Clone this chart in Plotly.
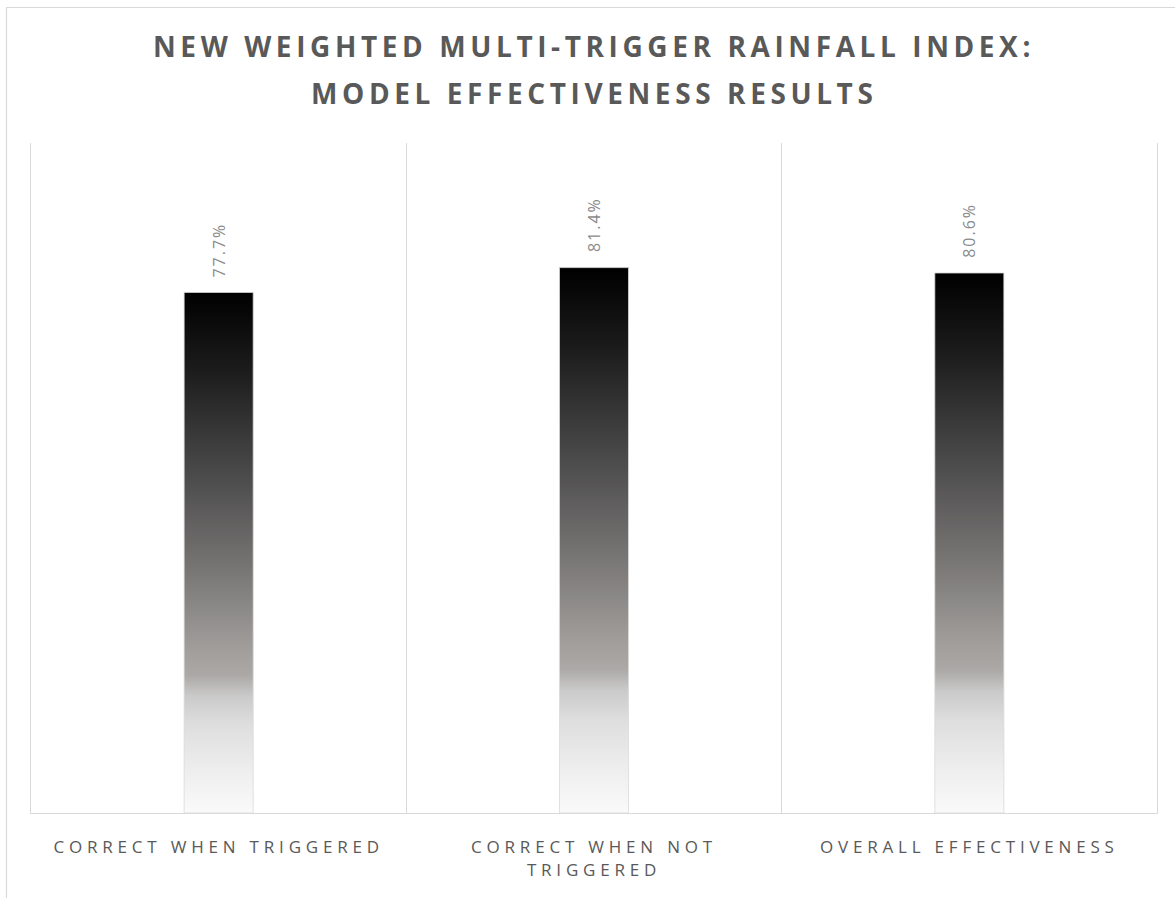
import plotly.graph_objects as go

# ---- data ----
categories = ["CORRECT WHEN TRIGGERED", "CORRECT WHEN NOT<br>TRIGGERED", "OVERALL EFFECTIVENESS"]
values = [77.7, 81.4, 80.6]
value_labels = ["77.7%", "81.4%", "80.6%"]
title_lines = ["NEW WEIGHTED MULTI-TRIGGER RAINFALL INDEX:", "MODEL EFFECTIVENESS RESULTS"]

W, H = 1175, 898
ML, MR, MT, MB = 31, 18, 143, 85
PW, PH = W - ML - MR, H - MT - MB

bar_w = 0.184
gradient = [
    [0.0, "#fafafa"], [0.08, "#eeeeee"], [0.17, "#dedede"], [0.225, "#cacaca"],
    [0.265, "#aba8a6"], [0.32, "#9f9c9a"], [0.46, "#7a7876"], [0.57, "#5f5d5d"],
    [0.67, "#464646"], [0.85, "#1c1c1c"], [1.0, "#000000"],
]

def spaced(t, sp):
    return f'<span style="letter-spacing:{sp}px">{t}</span>'

fig = go.Figure()
for i, v in enumerate(values):
    x0, x1 = i - bar_w / 2, i + bar_w / 2
    fig.add_trace(go.Scatter(
        x=[x0, x1, x1, x0, x0], y=[0, 0, v, v, 0],
        mode="lines", fill="toself",
        line=dict(color="#d9d9d9", width=0.8),
        fillgradient=dict(type="vertical", colorscale=gradient),
        hoverinfo="skip", showlegend=False,
    ))
    fig.add_annotation(
        x=i, y=v, xref="x", yref="y", text=spaced(value_labels[i], 2),
        showarrow=False, textangle=-90, yanchor="bottom", xanchor="center", yshift=13,
        font=dict(family="Open Sans", size=16, color="#8a8a8a"),
    )

# title lines
for k, (t, ypx) in enumerate(zip(title_lines, [46, 93])):
    fig.add_annotation(
        x=0.5, y=(H - MB - ypx) / PH, xref="paper", yref="paper",
        text="<b>" + spaced(t, 4.6) + "</b>", showarrow=False,
        xanchor="center", yanchor="middle",
        font=dict(family="Open Sans", size=28, color="#595959"),
    )

# outer frame
fig.add_shape(
    type="rect", xref="paper", yref="paper",
    x0=(6.5 - ML) / PW, x1=(W + 10 - ML) / PW,
    y0=(H - MB - (H + 10)) / PH, y1=(H - MB - 7.5) / PH,
    line=dict(color="#d9d9d9", width=1.2), fillcolor="rgba(0,0,0,0)", layer="below",
)

fig.update_layout(
    width=W, height=H,
    margin=dict(l=ML, r=MR, t=MT, b=MB),
    paper_bgcolor="white", plot_bgcolor="white",
    showlegend=False,
    xaxis=dict(
        range=[-0.5, 2.5], tickmode="array", tickvals=list(range(len(categories))),
        ticktext=[spaced(c, 4.8) for c in categories],
        showgrid=False, zeroline=False, showline=True, linecolor="#d9d9d9", linewidth=1,
        ticks="", ticklabelstandoff=19,
        tickfont=dict(family="Open Sans", size=17, color="#595959"),
        minor=dict(tickmode="array", tickvals=[0.5, 1.5], showgrid=True,
                   gridcolor="#d9d9d9", gridwidth=1, ticks=""),
        fixedrange=True,
    ),
    yaxis=dict(
        range=[0, 100], showgrid=False, zeroline=False, showticklabels=False,
        showline=True, mirror=True, linecolor="#d9d9d9", linewidth=1, ticks="",
        fixedrange=True,
    ),
)

fig.write_html(
    "out.html",
    config={"displayModeBar": False},
    post_script="document.body.style.margin='0px';document.body.style.overflow='hidden';",
)
